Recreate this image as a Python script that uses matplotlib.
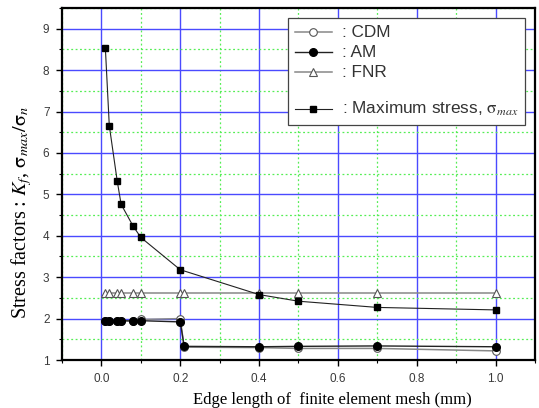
import matplotlib
matplotlib.use("Agg")
import matplotlib.pyplot as plt
from matplotlib.ticker import MultipleLocator
from matplotlib.lines import Line2D

plt.rcParams["mathtext.fontset"] = "stix"

x = [0.01, 0.02, 0.04, 0.05, 0.08, 0.1, 0.2, 0.21, 0.4, 0.5, 0.7, 1.0]
cdm = [1.95, 1.95, 1.94, 1.95, 1.95, 1.98, 2.0, 1.31, 1.30, 1.28, 1.28, 1.22]
am = [1.95, 1.95, 1.95, 1.95, 1.94, 1.95, 1.92, 1.33, 1.32, 1.33, 1.34, 1.32]
fnr = [2.62, 2.62, 2.62, 2.62, 2.62, 2.62, 2.62, 2.62, 2.62, 2.62, 2.62, 2.62]
x_max = [0.01, 0.02, 0.04, 0.05, 0.08, 0.1, 0.2, 0.4, 0.5, 0.7, 1.0]
smax = [8.54, 6.66, 5.33, 4.76, 4.24, 3.96, 3.18, 2.58, 2.42, 2.27, 2.21]

xticks = [0.0, 0.2, 0.4, 0.6, 0.8, 1.0]
yticks = [1, 2, 3, 4, 5, 6, 7, 8, 9]

fig = plt.figure(figsize=(5.39, 4.08), dpi=100)
ax = fig.add_axes([0.115, 0.1176, 0.8776, 0.8628])

ax.set_xlim(-0.1, 1.1)
ax.set_ylim(1, 9.5)
ax.xaxis.set_minor_locator(MultipleLocator(0.1))
ax.yaxis.set_minor_locator(MultipleLocator(0.5))
ax.set_xticks(xticks)
ax.set_xticklabels([f"{v:.1f}" for v in xticks])
ax.set_yticks(yticks)
ax.set_yticklabels([str(v) for v in yticks])

ax.grid(which="major", color="#4a4aff", linewidth=1.0, linestyle="-")
ax.grid(which="minor", color="#55ee55", linewidth=0.9, linestyle=(0, (1.5, 2)))
ax.set_axisbelow(True)

for sp in ax.spines.values():
    sp.set_linewidth(1.6)
ax.tick_params(which="major", direction="out", length=4, width=1.0,
               labelsize=8.5, colors="black", pad=5)
ax.tick_params(which="minor", direction="out", length=2.5, width=0.8)
for lab in ax.get_xticklabels() + ax.get_yticklabels():
    lab.set_fontfamily("Liberation Sans")
    lab.set_color("#3a3a3a")

l_fnr, = ax.plot(x, fnr, color="#888888", lw=1.1, marker="^", ms=6,
                 mfc="white", mec="#555555", mew=0.8, zorder=3)
l_cdm, = ax.plot(x, cdm, color="#888888", lw=1.1, marker="o", ms=5.5,
                 mfc="white", mec="#555555", mew=0.8, zorder=3)
l_am, = ax.plot(x, am, color="#222222", lw=1.0, marker="o", ms=5.5,
                mfc="black", mec="black", zorder=4)
l_max, = ax.plot(x_max, smax, color="#222222", lw=0.8, marker="s", ms=5,
                 mfc="black", mec="black", zorder=5)

spacer = Line2D([], [], linestyle="none", marker="none")
leg = ax.legend([l_cdm, l_am, l_fnr, spacer, l_max],
                [": CDM", ": AM", ": FNR", "",
                 r": Maximum stress, $\mathrm{\sigma}_{\mathit{max}}$"],
                loc="upper left", bbox_to_anchor=(0.477, 0.972),
                prop={"family": "Liberation Sans", "size": 12.4},
                frameon=True, fancybox=False, edgecolor="#444444",
                handlelength=2.15, handleheight=0.2, labelspacing=0.3,
                borderpad=0.4, handletextpad=0.6, borderaxespad=0)
leg.get_frame().set_linewidth(0.9)
leg.get_frame().set_alpha(1.0)
for t in leg.get_texts():
    t.set_color("#333333")
leg.get_texts()[3].set_fontsize(1)

ax.set_xlabel("Edge length of  finite element mesh (mm)",
              family="Liberation Serif", fontsize=12, va="center")
ax.xaxis.set_label_coords(0.571, -0.113)
ax.set_ylabel(r"Stress factors : $K_{f}$, $\mathrm{\sigma}_{max}/\mathrm{\sigma}_{n}$",
              family="Liberation Serif", fontsize=14.5, va="center")
ax.yaxis.set_label_coords(-0.085, 0.42)

fig.savefig("out.png", dpi=100)
